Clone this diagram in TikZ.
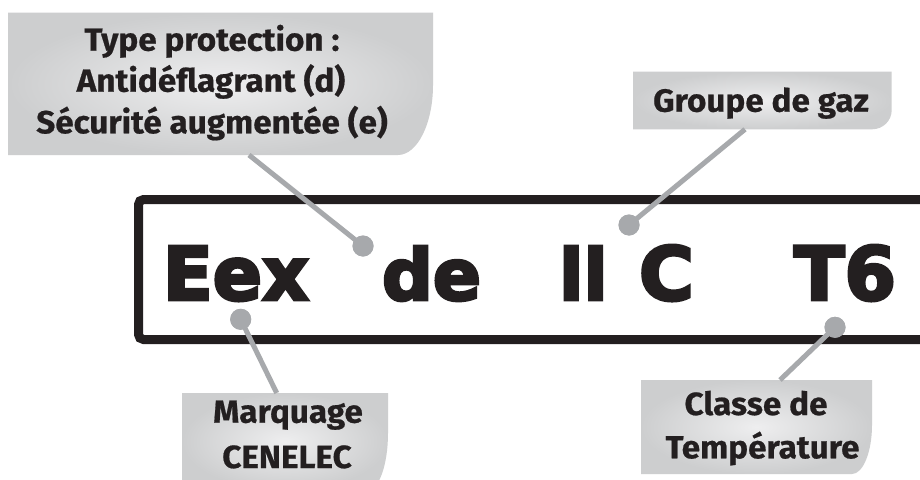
\documentclass[tikz,border=0pt]{standalone}
\usepackage{fontspec}
\usepackage{graphicx}
\newfontfamily\lblfont[FakeStretch=1.04, FakeBold=0.6]{Fira Sans Bold}
\newfontfamily\bigfont[FakeBold=4]{DejaVu Sans Bold}
\definecolor{ink}{HTML}{231F20}
\definecolor{conn}{HTML}{A7A9AC}
\definecolor{boxin}{HTML}{EEEEEF}
\definecolor{boxout}{HTML}{CDCECF}
\tikzset{
  lbl/.style={inner sep=0pt, anchor=base, text=ink, font=\lblfont\fontsize{32}{40}\selectfont},
  big/.style={inner sep=0pt, anchor=base, text=ink},
  conline/.style={draw=conn, line width=5pt},
  dotc/.style={circle, fill=conn, minimum size=21pt, inner sep=0pt},
  lblbox/.style={inner color=boxin, outer color=boxout},
  frameline/.style={draw=ink, line width=9pt, rounded corners=5pt}
}
\begin{document}
\begin{tikzpicture}[x=1pt,y=-1pt]
\useasboundingbox (0,0) rectangle (920,479);
\clip (0,0) rectangle (920,479);
\fill[white] (0,0) rectangle (920,479);
% frame
\draw[frameline] (940,199.5) -- (138.5,199.5) -- (138.5,339.5) -- (940,339.5);
% label boxes
\shade[lblbox] (8,12.7) -- (433,12.7) -- (433,85) .. controls (433,123.6) and (417.3,155) .. (398,155) -- (8,155) -- cycle;
\shade[lblbox] (633,71.7) -- (891.7,71.7) -- (891.7,110) .. controls (891.7,120.7) and (883,129.3) .. (872,129.3) -- (633,129.3) -- cycle;
\shade[lblbox] (182,393) -- (388,393) -- (388,433) .. controls (388,464.5) and (379,490) .. (368,490) -- (182,490) -- cycle;
\shade[lblbox] (641,380) -- (872,380) -- (872,425) .. controls (872,452) and (863,474) .. (852,474) -- (641,474) -- cycle;
% connector end points on the boxes
\coordinate (e1) at (249,155);
\coordinate (e2) at (745,129.3);
\coordinate (e3) at (276.7,393);
\coordinate (e4) at (780,380);
% dots
\node[dotc] (d1) at (363,246) {};
\node[dotc] (d2) at (629,225) {};
\node[dotc] (d3) at (240.7,319.3) {};
\node[dotc] (d4) at (835,327.3) {};
% connectors
\draw[conline] (d1.center) -- (e1);
\draw[conline] (d2.center) -- (e2);
\draw[conline] (d3.center) -- (e3);
\draw[conline] (d4.center) -- (e4);
\node[dotc] at (d1) {};
\node[dotc] at (d2) {};
\node[dotc] at (d3) {};
\node[dotc] at (d4) {};
% big marking
\node[big] (w1) at (236,300) {\resizebox{146pt}{54pt}{\bigfont Eex}};
\node[big] (w2) at (431.5,300) {\resizebox{99pt}{54pt}{\bigfont de}};
\node[big] (w3) at (583.5,300) {\resizebox{49pt}{54pt}{\bigfont II}};
\node[big] (w4) at (666.5,300) {\resizebox{55pt}{55pt}{\bigfont C}};
\node[big] (w5) at (845,300) {\resizebox{102pt}{55pt}{\bigfont T6}};
% labels
\node[lbl] (t1a) at (212,50.7) {Type protection :};
\node[lbl] (t1b) at (211,91.7) {Antidéflagrant (d)};
\node[lbl] (t1c) at (212,133.3) {Sécurité augmentée (e)};
\node[lbl] (t2) at (761,111.7) {Groupe de gaz};
\node[lbl] (t3a) at (288,422.7) {Marquage};
\node[lbl] (t3b) at (287,468) {CENELEC};
\node[lbl] (t4a) at (756,415) {Classe de};
\node[lbl] (t4b) at (762.5,458.3) {Température};
\end{tikzpicture}
\end{document}
